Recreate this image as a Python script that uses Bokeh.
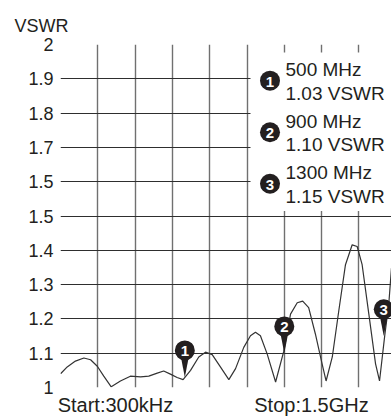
from bokeh.plotting import figure
from bokeh.models import FixedTicker, ColumnDataSource
from bokeh.core.properties import value
from bokeh.embed import file_html
from bokeh.resources import INLINE

# ---------------- data ----------------
freq_mhz = [0.3, 27, 60, 94, 121, 148, 174, 204, 241, 281,
            322, 355, 389, 415, 442, 469, 493, 523, 556, 583,
            610, 643, 677, 704, 737, 764, 784, 804, 831, 865,
            898, 925, 952, 974, 998, 1025, 1052, 1068, 1093, 1119,
            1146, 1173, 1193, 1213, 1240, 1267, 1283, 1304, 1320, 1331]
vswr = [1.040, 1.060, 1.077, 1.086, 1.081, 1.062, 1.033, 1.002, 1.019, 1.033,
        1.031, 1.033, 1.042, 1.048, 1.039, 1.029, 1.023, 1.050, 1.089, 1.103,
        1.096, 1.060, 1.023, 1.055, 1.117, 1.151, 1.161, 1.151, 1.098, 1.016,
        1.106, 1.214, 1.247, 1.252, 1.233, 1.156, 1.069, 1.019, 1.089, 1.223,
        1.358, 1.416, 1.411, 1.358, 1.214, 1.069, 1.019, 1.152, 1.242, 1.348]

marker_ids = ["1", "2", "3"]
marker_freq_mhz = [500, 900, 1300]
marker_vswr = [1.03, 1.10, 1.15]

y_ticks = [1.0, 1.1, 1.2, 1.3, 1.4, 1.5, 1.6, 1.7, 1.8, 1.9, 2.0]
y_tick_labels = ["1", "1.1", "1.2", "1.3", "1.4", "1.5", "1.5", "1.7", "1.8", "1.9", "2"]
x_grid_mhz = [0, 150, 300, 450, 600, 750, 900, 1050, 1200, 1350, 1500]

y_title = "VSWR"
sweep_labels = ["Start:300kHz", "Stop:1.5GHz"]

# ---------------- layout ----------------
W, H = 391, 418
FRAME_LEFT, FRAME_TOP = 60, 44          # page pixels
FRAME_W = W - FRAME_LEFT
BOTTOM = 28
FRAME_H = H - FRAME_TOP - BOTTOM
PX_PER_MHZ = 37.3 / 150.0
X_END = FRAME_W / PX_PER_MHZ
FONT = "Liberation Sans"
INK = "#231f20"


def to_data(px, py):
    return (px - FRAME_LEFT) / PX_PER_MHZ, 2.0 - (py - FRAME_TOP) / FRAME_H


def dy(px):
    return px / FRAME_H


def dx(px):
    return px / PX_PER_MHZ


p = figure(width=W, height=H,
           x_range=(0, X_END), y_range=(1.0, 2.0),
           toolbar_location=None, output_backend="svg",
           min_border_left=FRAME_LEFT, min_border_top=FRAME_TOP,
           min_border_bottom=BOTTOM, min_border_right=0)
p.outline_line_color = None
p.background_fill_color = "white"
p.border_fill_color = "white"

# title "VSWR" top-left
p.title.text = y_title
p.title.align = "left"
p.title.offset = -46
p.title.standoff = 17
p.title.text_font = FONT
p.title.text_font_size = "18px"
p.title.text_font_style = "normal"
p.title.text_color = INK

# y axis
p.yaxis.ticker = FixedTicker(ticks=y_ticks)
p.yaxis.major_label_overrides = dict(zip(y_ticks, y_tick_labels))
p.yaxis.axis_line_color = None
p.yaxis.major_tick_line_color = None
p.yaxis.minor_tick_line_color = None
p.yaxis.major_tick_out = 0
p.yaxis.major_tick_in = 0
p.yaxis.major_label_standoff = 7
p.yaxis.major_label_text_font = FONT
p.yaxis.major_label_text_font_size = "18px"
p.yaxis.major_label_text_color = INK

# x axis only carries the sweep start / stop texts
label_px = [115, 311]
label_pos = [to_data(px, 0)[0] for px in label_px]
p.xaxis.ticker = FixedTicker(ticks=label_pos)
p.xaxis.major_label_overrides = dict(zip(label_pos, sweep_labels))
p.xaxis.axis_line_color = None
p.xaxis.major_tick_line_color = None
p.xaxis.minor_tick_line_color = None
p.xaxis.major_tick_out = 0
p.xaxis.major_tick_in = 0
p.xaxis.major_label_standoff = 6
p.xaxis.major_label_text_font = FONT
p.xaxis.major_label_text_font_size = "20px"
p.xaxis.major_label_text_color = INK

# grid
p.ygrid.ticker = FixedTicker(ticks=y_ticks)
p.ygrid.grid_line_color = "#2e2e2e"
p.ygrid.grid_line_width = 1.2
p.xgrid.ticker = FixedTicker(ticks=x_grid_mhz)
p.xgrid.grid_line_color = "#707070"
p.xgrid.grid_line_width = 1.4

# white panel behind the marker readouts
bx0, by_top = to_data(250, 52)
_, by_bot = to_data(250, 212)
p.quad(left=[bx0], right=[X_END + 100], bottom=[by_bot], top=[by_top],
       fill_color="white", line_color=None)

# trace
p.line(freq_mhz, vswr, line_color="#333333", line_width=1.2)

# markers on the trace
spike_xs, spike_ys, circ_y = [], [], []
for f, v in zip(marker_freq_mhz, marker_vswr):
    spike_xs.append([f - dx(3.5), f + dx(3.5), f])
    spike_ys.append([v + dy(18), v + dy(18), v])
    circ_y.append(v + dy(27))
p.patches(spike_xs, spike_ys, fill_color=INK, line_color=None)
msrc = ColumnDataSource(dict(x=marker_freq_mhz, y=circ_y, t=marker_ids))
p.scatter("x", "y", source=msrc, size=20, fill_color=INK, line_color=None)
p.text("x", "y", text="t", source=msrc, text_color="white",
       text_font=value(FONT), text_font_style="bold", text_font_size="15px",
       text_align="center", text_baseline="middle", y_offset=1)

# marker readout legend
leg_cx, leg_cy, leg_tx, line1_y, line2_y, line1, line2 = [], [], [], [], [], [], []
for i, (f, v) in enumerate(zip(marker_freq_mhz, marker_vswr)):
    cx, cy = to_data(269.5, 80.5 + 52 * i)
    leg_cx.append(cx)
    leg_cy.append(cy)
    tx, y1 = to_data(285, 69.5 + 52 * i)
    _, y2 = to_data(285, 93 + 52 * i)
    leg_tx.append(tx)
    line1_y.append(y1)
    line2_y.append(y2)
    line1.append(f"{f} MHz")
    line2.append(f"{v:.2f} VSWR")
lsrc = ColumnDataSource(dict(cx=leg_cx, cy=leg_cy, t=marker_ids))
p.scatter("cx", "cy", source=lsrc, size=20, fill_color=INK, line_color=None)
p.text("cx", "cy", text="t", source=lsrc, text_color="white",
       text_font=value(FONT), text_font_style="bold", text_font_size="15px",
       text_align="center", text_baseline="middle", y_offset=1)
tsrc = ColumnDataSource(dict(x=leg_tx + leg_tx, y=line1_y + line2_y, t=line1 + line2))
p.text("x", "y", text="t", source=tsrc, text_color=INK,
       text_font=value(FONT), text_font_size="19px",
       text_align="left", text_baseline="alphabetic")

open("out.html", "w").write(file_html(p, INLINE))
